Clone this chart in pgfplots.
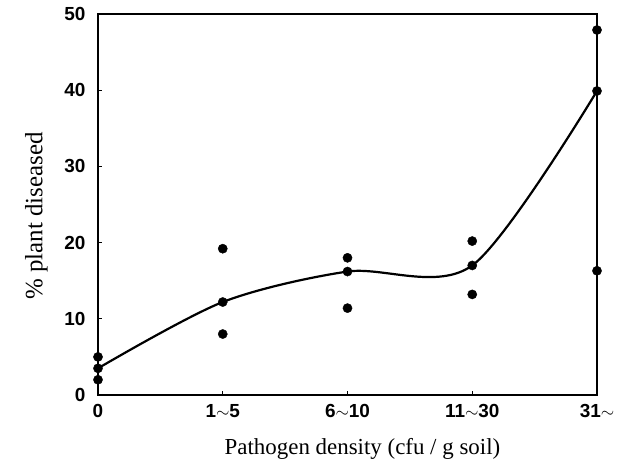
\documentclass[border=0pt]{standalone}
\usepackage{pgfplots}
\pgfplotsset{compat=1.18}
\usepackage{fontspec}
\setmainfont{Liberation Serif}
\newfontfamily\ticksf{Liberation Sans}

\begin{document}
\begin{tikzpicture}
\begin{axis}[
  scale only axis, width=499bp, height=381bp,
  xmin=0, xmax=4, ymin=0, ymax=50,
  xtick={0,1,2,3,4},
  xticklabels={0, 1$\sim$5, 6$\sim$10, 11$\sim$30, 31$\sim$},
  ytick={0,10,...,50},
  tick align=inside, xtick pos=bottom, ytick pos=left,
  major tick length=4bp, tick style={black, line width=0.8bp},
  tick label style={font=\ticksf\bfseries\fontsize{19}{22}\selectfont},
  /pgf/number format/assume math mode=true,
  xticklabel style={yshift=-6bp},
  yticklabel style={xshift=-9bp},
  xlabel={Pathogen density (cfu / g soil)},
  ylabel={\% plant diseased},
  xlabel style={font=\fontsize{23}{26}\selectfont, at={(ticklabel cs:0.53)}, yshift=-14bp},
  ylabel style={font=\fontsize{25}{28}\selectfont, at={(ticklabel cs:0.47)}, yshift=10bp},
  axis line style={line width=1.3bp},
  clip=false,
]
\addplot[only marks, mark=*, mark size=4.6bp, black] coordinates {
(0,5)(0,3.5)(0,2)
(1,19.2)(1,12.2)(1,8)
(2,18)(2,16.2)(2,11.4)
(3,20.2)(3,17)(3,13.2)
(4,47.9)(4,39.9)(4,16.3)};
\addplot[smooth, tension=0.5, line width=2.2bp, black] coordinates {
(0,3.5)(1,12.2)(2,16.2)(3,17)(4,39.9)};
\end{axis}
\pgfresetboundingbox
\path[use as bounding box] ([xshift=-98bp,yshift=-78bp]current axis.south west) rectangle ([xshift=27bp,yshift=14bp]current axis.north east);
\end{tikzpicture}
\end{document}
